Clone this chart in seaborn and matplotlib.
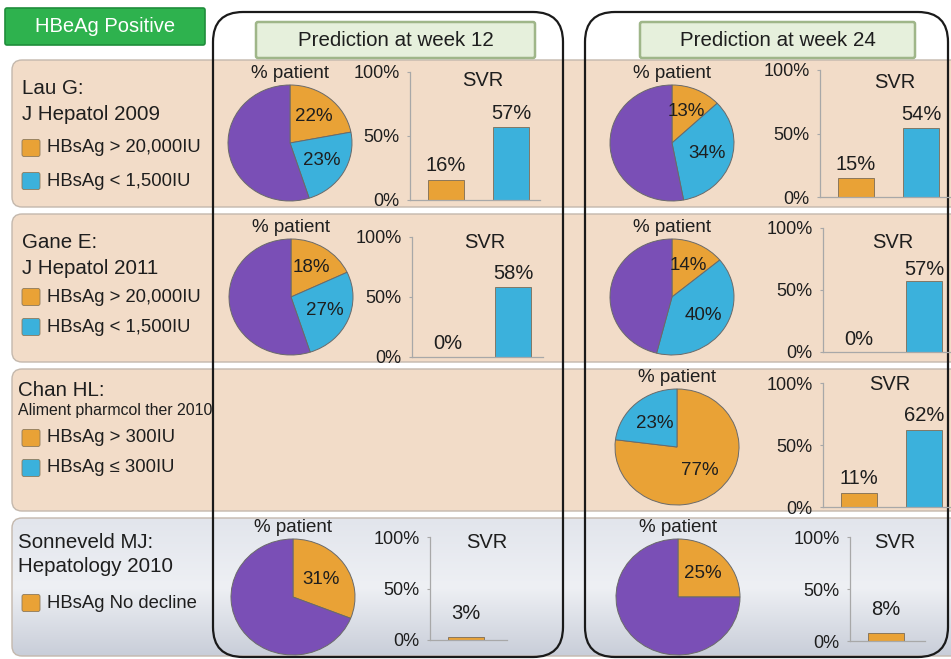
import numpy as np
import pandas as pd
import matplotlib
matplotlib.use("Agg")
import matplotlib.pyplot as plt
import seaborn as sns
from matplotlib.patches import FancyBboxPatch
from matplotlib.colors import LinearSegmentedColormap

sns.set_theme(style="white")
plt.rcParams['font.family'] = ['Liberation Sans', 'DejaVu Sans']

# ------------------------------------------------------------------ data
panel_title = "HBeAg Positive"
week_titles = ["Prediction at week 12", "Prediction at week 24"]
study_names = ["Lau G:", "Gane E:", "Chan HL:", "Sonneveld MJ:"]
study_refs = ["J Hepatol 2009", "J Hepatol 2011", "Aliment pharmcol ther 2010", "Hepatology 2010"]
legend_orange = ["HBsAg > 20,000IU", "HBsAg > 20,000IU", "HBsAg > 300IU", "HBsAg No decline"]
legend_blue = ["HBsAg < 1,500IU", "HBsAg < 1,500IU", "HBsAg \u2264 300IU", None]

w12_pct_orange = [22, 18, None, 31]
w12_pct_blue = [23, 27, None, None]
w12_svr_orange = [16, 0, None, 3]
w12_svr_blue = [57, 58, None, None]

w24_pct_orange = [13, 14, 77, 25]
w24_pct_blue = [34, 40, 23, None]
w24_svr_orange = [15, 0, 11, 8]
w24_svr_blue = [54, 57, 62, None]

svr_ticks = [0, 50, 100]
pie_title = "% patient"
bar_title = "SVR"

# ------------------------------------------------------------------ style
ORANGE = "#e9a236"
BLUE = "#3bb1dc"
PURPLE = "#7a4fb6"
PEACH = "#f2dcc8"
TXT = "#1e1e1e"

W, H = 951, 659
fig = plt.figure(figsize=(W / 100, H / 100), dpi=100)


def pax(x0, y0, x1, y1):
    return fig.add_axes([x0 / W, 1 - y1 / H, (x1 - x0) / W, (y1 - y0) / H])


bg = pax(0, 0, W, H)
bg.axis("off")

# row bands
band_y = [(60, 207), (214, 362), (369, 511), (518, 656)]
for i, (y0, y1) in enumerate(band_y):
    p = FancyBboxPatch((12, y0), 980 - 12, y1 - y0,
                       boxstyle="round,pad=0,rounding_size=10",
                       fc=PEACH if i < 3 else "none", ec="#c4b8ad", lw=1.0, zorder=1)
    bg.add_patch(p)
    if i == 3:
        grad = np.linspace(0, 1, 100).reshape(-1, 1)
        cmap = LinearSegmentedColormap.from_list("g", ["#e2e5ec", "#eef0f4", "#c9ced9"])
        im = bg.imshow(grad, extent=(12, 980, y1, y0), cmap=cmap, aspect="auto", zorder=0.5)
        im.set_clip_path(p)

# green title
bg.add_patch(FancyBboxPatch((5, 8), 200, 37, boxstyle="round,pad=0,rounding_size=2",
                            fc="#2eb24e", ec="#1f8d3b", lw=1.2, zorder=2))
bg.text(105, 27, panel_title, color="white", fontsize=14.5, ha="center", va="center", zorder=3)

# week boxes + headers
week_boxes = [(213, 563), (585, 948)]
header_boxes = [(256, 535), (640, 915)]
for (x0, x1), (h0, h1), title in zip(week_boxes, header_boxes, week_titles):
    bg.add_patch(FancyBboxPatch((x0, 12), x1 - x0, 657 - 12,
                                boxstyle="round,pad=0,rounding_size=30",
                                fc="none", ec="#1a1a1a", lw=1.6, zorder=6))
    bg.add_patch(FancyBboxPatch((h0, 22), h1 - h0, 36,
                                boxstyle="round,pad=0,rounding_size=2",
                                fc="#e6f0dc", ec="#9fb689", lw=1.8, zorder=3))
    bg.text((h0 + h1) / 2, 41, title, fontsize=14.8, color=TXT, ha="center", va="center", zorder=4)

# left study texts
left_rows = [
    dict(x=22, name_y=88, ref_y=114, ref_fs=14.8, leg_y=[148, 181]),
    dict(x=22, name_y=243, ref_y=268, ref_fs=14.8, leg_y=[297, 327]),
    dict(x=18, name_y=391, ref_y=411, ref_fs=11.4, leg_y=[438, 468]),
    dict(x=18, name_y=542, ref_y=567, ref_fs=14.8, leg_y=[603]),
]
for i, lr in enumerate(left_rows):
    bg.text(lr["x"], lr["name_y"], study_names[i], fontsize=14.8, color=TXT, va="center", zorder=4)
    bg.text(lr["x"], lr["ref_y"], study_refs[i], fontsize=lr["ref_fs"], color=TXT, va="center", zorder=4)
    labs = [legend_orange[i], legend_blue[i]]
    cols = [ORANGE, BLUE]
    for ly, lab, col in zip(lr["leg_y"], labs, cols):
        if lab is None:
            continue
        bg.add_patch(FancyBboxPatch((22, ly - 8.5), 18, 17, boxstyle="round,pad=0,rounding_size=2",
                                    fc=col, ec="#8d7a5c", lw=0.6, zorder=4))
        bg.text(47, ly, lab, fontsize=13.3, color=TXT, va="center", zorder=4)

bg.set_xlim(0, W)
bg.set_ylim(H, 0)

# ------------------------------------------------------------------ cells
pie_layout = {
    (0, 0): (290, 143), (0, 1): (672, 143),
    (1, 0): (291, 297), (1, 1): (672, 297),
    (2, 1): (677, 447),
    (3, 0): (293, 597), (3, 1): (678, 597),
}
RX, RY = 62, 58
pie_label_d = {(2, 1): 0.55, (3, 0): 0.55, (3, 1): 0.57}

# (axis x, y at 100%, end x, y at 0%)
bar_layout = {
    (0, 0): (410, 72, 540, 200), (0, 1): (820, 70, 951, 197),
    (1, 0): (412, 237, 543, 357), (1, 1): (823, 228, 951, 352),
    (2, 1): (823, 383, 951, 507),
    (3, 0): (430, 537, 507, 640), (3, 1): (850, 537, 925, 641),
}
svr_pos = {
    (0, 0): (483, 80), (0, 1): (895, 82),
    (1, 0): (485, 242), (1, 1): (893, 242),
    (2, 1): (890, 385),
    (3, 0): (487, 543), (3, 1): (895, 542),
}
bar_pad = {(0, 0): 3, (0, 1): 3, (1, 0): 3, (1, 1): 2, (2, 1): 4, (3, 0): 10, (3, 1): 9.5}
UNIT = 65.0      # pixels between bar centres
FIRST = 36.0     # pixels from y axis to first bar centre
BAR_W = 0.54

weeks = [
    (w12_pct_orange, w12_pct_blue, w12_svr_orange, w12_svr_blue),
    (w24_pct_orange, w24_pct_blue, w24_svr_orange, w24_svr_blue),
]

for wk, (po, pb, so, sb) in enumerate(weeks):
    for r in range(4):
        if po[r] is None:
            continue
        key = (r, wk)
        # ---- pie
        cx, cy = pie_layout[key]
        k = 1.04
        ax = pax(cx - RX * k, cy - RY * k, cx + RX * k, cy + RY * k)
        if pb[r] is None:
            vals, cols, lab = [po[r], 100 - po[r]], [ORANGE, PURPLE], [True, False]
        elif po[r] + pb[r] >= 100:
            vals, cols, lab = [po[r], pb[r]], [ORANGE, BLUE], [True, True]
        else:
            vals = [po[r], pb[r], 100 - po[r] - pb[r]]
            cols, lab = [ORANGE, BLUE, PURPLE], [True, True, False]
        wedges, _ = ax.pie(vals, colors=cols, startangle=90, counterclock=False,
                           wedgeprops=dict(edgecolor="#6a6a6a", linewidth=0.7))
        d = pie_label_d.get(key, 0.6)
        for w, v, show in zip(wedges, vals, lab):
            if not show:
                continue
            ang = np.deg2rad((w.theta1 + w.theta2) / 2)
            ax.text(d * np.cos(ang), d * np.sin(ang), f"{v}%", ha="center", va="center",
                    fontsize=13.5, color=TXT)
        ax.set_xlim(-k, k)
        ax.set_ylim(-k, k)
        ax.set_aspect("auto")
        ax.set_facecolor("none")
        bg.text(cx, cy - 70, pie_title, fontsize=13.5, color=TXT, ha="center", va="center", zorder=4)

        # ---- bars
        xa, yt, xe, yb = bar_layout[key]
        bax = pax(xa, yt, xe, yb)
        if sb[r] is None:
            df = pd.DataFrame({"grp": ["o"], "svr": [so[r]]})
            pal = [ORANGE]
        else:
            df = pd.DataFrame({"grp": ["o", "b"], "svr": [so[r], sb[r]]})
            pal = [ORANGE, BLUE]
        sns.barplot(data=df, x="grp", y="svr", hue="grp", palette=pal, width=BAR_W,
                    saturation=1, errorbar=None, legend=False,
                    edgecolor="#7d6c55", linewidth=0.6, ax=bax)
        for cont in bax.containers:
            bax.bar_label(cont, fmt="{:.0f}%", padding=bar_pad[key], fontsize=14.5, color=TXT)
        bax.set_xlim(-FIRST / UNIT, (xe - xa - FIRST) / UNIT)
        bax.set_ylim(0, 100)
        bax.set_yticks(svr_ticks)
        bax.set_yticklabels([f"{t}%" for t in svr_ticks], fontsize=13, color=TXT)
        bax.set_xticks([])
        bax.set_xlabel("")
        bax.set_ylabel("")
        bax.set_facecolor("none")
        for s in ["top", "right"]:
            bax.spines[s].set_visible(False)
        for s in ["left", "bottom"]:
            bax.spines[s].set_color("#a8a8a8")
            bax.spines[s].set_linewidth(0.9)
        bax.tick_params(axis="y", length=2.5, width=0.8, color="#a8a8a8", pad=5, left=True)
        for t in bax.texts:
            t.set_clip_on(False)
        sx, sy = svr_pos[key]
        bg.text(sx, sy, bar_title, fontsize=14.5, color=TXT, ha="center", va="center", zorder=4)

fig.savefig("out.png", dpi=100)
